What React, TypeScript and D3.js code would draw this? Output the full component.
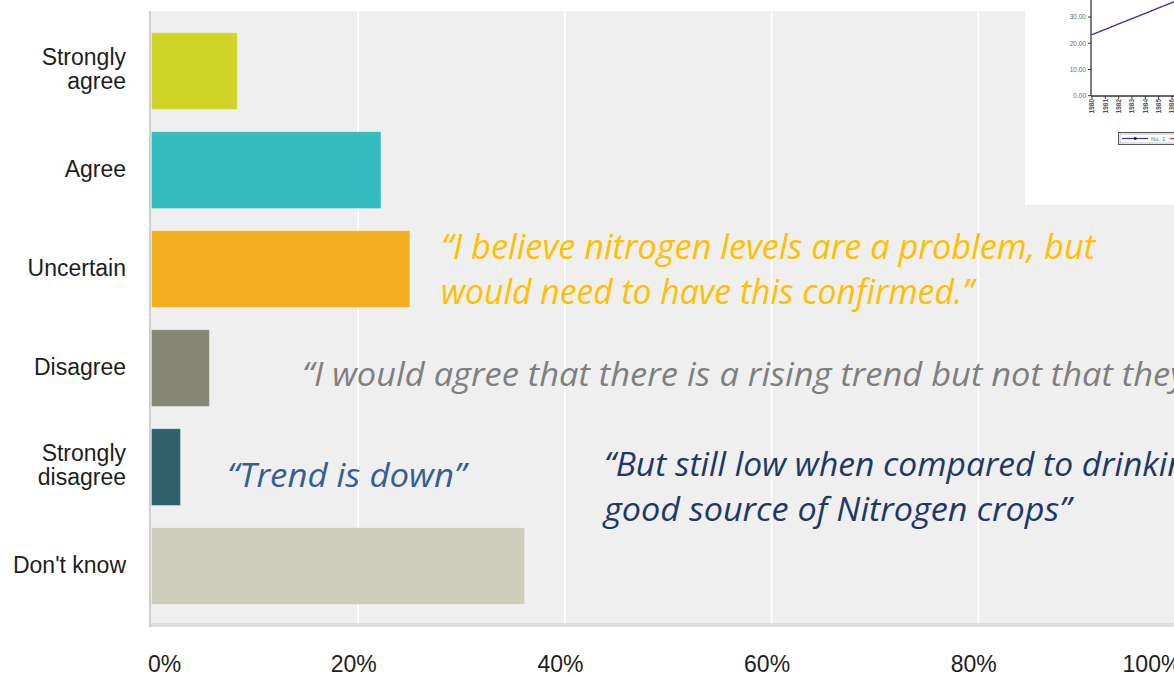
import React from 'react';
import * as d3 from 'd3';

// ---- main chart data ----
const categories = ["Strongly agree", "Agree", "Uncertain", "Disagree", "Strongly disagree", "Don't know"];
const categoryLines = [["Strongly", "agree"], ["Agree"], ["Uncertain"], ["Disagree"], ["Strongly", "disagree"], ["Don't know"]];
const percentages = [8.3, 22.2, 25.0, 5.6, 2.8, 36.1];
const barColors = ["#cfd426", "#33bdbe", "#f5ae1f", "#868675", "#2e5f6b", "#cfcdbe"];
const xTicks = [0, 20, 40, 60, 80, 100];
const xTickLabels = ["0%", "20%", "40%", "60%", "80%", "100%"];

// ---- inset (pasted line chart) data ----
const insetYears = [1980, 1981, 1982, 1983, 1984, 1985, 1986, 1987, 1988];
const insetSeriesA = [23.3, 25.3, 27.4, 29.4, 31.4, 33.5, 35.5, 37.6, 39.6];
const insetSeriesB = [36.6, 44.0, 50.5, 56.0, 61.0, 66.0, 70.0, 74.0, 78.0];
const insetYTicks = [0, 10, 20, 30];

// ---- quotes ----
const quotes = [
  { lines: ["\u201CI believe nitrogen levels are a problem, but", "would need to have this confirmed.\u201D"], color: "#ffc000", x: 441, y: [259, 304], size: 34, lens: [654, 533] },
  { lines: ["\u201CI would agree that there is a rising trend but not that they"], color: "#7f7f7f", x: 302, y: [386], size: 32, lens: [884] },
  { lines: ["\u201CTrend is down\u201D"], color: "#365f91", x: 227, y: [487], size: 33, lens: [239] },
  { lines: ["\u201CBut still low when compared to drinking", "good source of Nitrogen crops\u201D"], color: "#1f3864", x: 604, y: [476, 521], size: 33, lens: [600, 467] },
];

const W = 1174;
const H = 676;

export default function App() {
  const x = d3.scaleLinear().domain([0, 100]).range([151.5, 1185]);
  const y = d3.scaleBand<string>().domain(categories).range([21.6, 615.6]).paddingInner(0.225).paddingOuter(0.1125);
  const plotTop = 11;
  const plotBottom = 623;

  const ix = d3.scaleLinear().domain([1980, 1986]).range([1092, 1172]);
  const iy = d3.scaleLinear().domain([0, 30]).range([95.7, 17]);
  const line = d3.line<number>().x((_, i) => ix(insetYears[i])).y((d) => iy(d));

  return (
    <svg width={W} height={H} style={{ position: 'absolute', left: 0, top: 0, background: '#fff' }}>
      {/* plot background */}
      <rect x={151} y={plotTop} width={W - 151} height={plotBottom - plotTop} fill="#efefef" />
      <rect x={150} y={plotBottom} width={W - 150} height={4} fill="#dedede" />
      {/* gridlines */}
      {xTicks.filter((t) => t > 0).map((t) => (
        <line key={t} x1={x(t)} x2={x(t)} y1={plotTop} y2={plotBottom} stroke="#ffffff" strokeWidth={1.5} />
      ))}
      {/* left axis */}
      <line x1={150} x2={150} y1={plotTop} y2={plotBottom + 4} stroke="#cfcfcf" strokeWidth={2} />

      {/* bars */}
      {categories.map((c, i) => (
        <rect key={c} x={x(0)} y={y(c)} width={x(percentages[i]) - x(0)} height={y.bandwidth()} fill={barColors[i]}
          stroke="rgba(255,255,255,0.3)" strokeWidth={1} />
      ))}

      {/* category labels */}
      {categories.map((c, i) => {
        const lines = categoryLines[i];
        const cy = (y(c) as number) + y.bandwidth() / 2;
        const first = lines.length === 1 ? cy + 6.5 : cy - 6;
        return (
          <text key={c} x={126} y={first} textAnchor="end" fontFamily="'Liberation Sans', Arial, sans-serif" fontSize={23} fill="#1e1e1e">
            {lines.map((l, k) => (
              <tspan key={k} x={126} dy={k === 0 ? 0 : 24}>{l}</tspan>
            ))}
          </text>
        );
      })}

      {/* x tick labels */}
      {xTicks.map((t, i) => {
        const anchor = i === 0 ? 'start' : 'middle';
        const px = i === 0 ? x(t) - 3.5 : i === xTicks.length - 1 ? x(t) - 33 : x(t) - 4.5;
        return (
          <text key={t} x={px} y={672} textAnchor={anchor} fontFamily="'Liberation Sans', Arial, sans-serif" fontSize={23} fill="#1e1e1e">
            {xTickLabels[i]}
          </text>
        );
      })}

      {/* inset pasted chart */}
      <g>
        <rect x={1025} y={0} width={W - 1025} height={205} fill="#ffffff" />
        <defs>
          <clipPath id="insetClip">
            <rect x={1091} y={0} width={W - 1091} height={96} />
          </clipPath>
        </defs>
        {insetYTicks.map((t) => (
          <g key={t}>
            <line x1={1088} x2={1091} y1={iy(t)} y2={iy(t)} stroke="#333" strokeWidth={1} />
            <text x={1086} y={iy(t)} dy="0.35em" textAnchor="end" fontFamily="'Liberation Sans', Arial, sans-serif" fontSize={6.5} fill="#666">
              {t.toFixed(2)}
            </text>
          </g>
        ))}
        {insetYears.map((yr) => (
          <g key={yr}>
            <line x1={ix(yr)} x2={ix(yr)} y1={96} y2={99} stroke="#333" strokeWidth={1} />
            <text transform={`translate(${ix(yr)},99) rotate(-90)`} dy="0.35em" textAnchor="end" fontFamily="'Liberation Sans', Arial, sans-serif" fontSize={6.5} fontWeight="bold" fill="#555">
              {yr}
            </text>
          </g>
        ))}
        <g clipPath="url(#insetClip)">
          <path d={line(insetSeriesA) || ''} fill="none" stroke="#3333a6" strokeWidth={1.4} />
          <path d={line(insetSeriesB) || ''} fill="none" stroke="#3333a6" strokeWidth={1.4} />
        </g>
        <line x1={1091} x2={1091} y1={0} y2={96} stroke="#333" strokeWidth={1.3} />
        <line x1={1091} x2={W} y1={96} y2={96} stroke="#333" strokeWidth={1.3} />
        {/* legend */}
        <rect x={1118.5} y={132.5} width={70} height={12} fill="#fff" stroke="#555" strokeWidth={1} />
        <rect x={1120} y={134} width={70} height={9} fill="none" stroke="#999" strokeWidth={0.6} />
        <line x1={1122} x2={1148} y1={138.5} y2={138.5} stroke="#3333a6" strokeWidth={1.2} />
        <rect x={1134} y={137.3} width={2.4} height={2.4} fill="#111" />
        <text x={1151} y={138.5} dy="0.35em" fontFamily="'Liberation Sans', Arial, sans-serif" fontSize={6} fill="#666">No. 1</text>
        <line x1={1170} x2={W} y1={138.5} y2={138.5} stroke="#cc3333" strokeWidth={1.2} />
      </g>

      {/* quotes */}
      {quotes.map((q, qi) => (
        <g key={qi}>
          {q.lines.map((l, k) => (
            <text key={k} x={q.x} y={q.y[k]} fontFamily="'Open Sans', 'Noto Sans', sans-serif" fontStyle="italic" fontSize={q.size}
              fill={q.color} textLength={q.lens[k]} lengthAdjust="spacingAndGlyphs">
              {l}
            </text>
          ))}
        </g>
      ))}
    </svg>
  );
}
